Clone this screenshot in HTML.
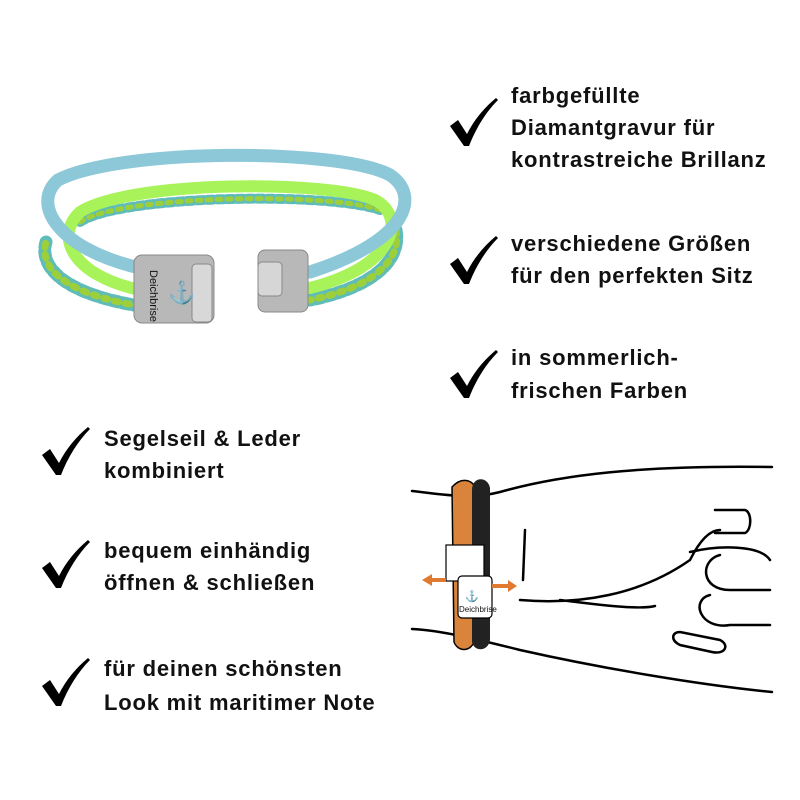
<!DOCTYPE html>
<html><head><style>
body{margin:0;background:#fff}
svg{display:block}
text{font-family:"Liberation Sans",sans-serif;font-weight:bold;font-size:22px;letter-spacing:0.8px;fill:#111}
</style></head><body>
<svg width="800" height="800" viewBox="0 0 800 800">
<defs>
<path id="ck" d="M0 22 L8 16 L17 30 C24 16 34 4 46 -6 L48 -4 C36 8 26 24 19 42 L14 42 Z" fill="#000"/>
</defs>
<use href="#ck" x="450" y="104"/>
<use href="#ck" x="450" y="242"/>
<use href="#ck" x="450" y="356"/>
<use href="#ck" x="42" y="433"/>
<use href="#ck" x="42" y="546"/>
<use href="#ck" x="42" y="664"/>
<text x="511" y="103">farbgefüllte</text>
<text x="511" y="135">Diamantgravur für</text>
<text x="511" y="167">kontrastreiche Brillanz</text>
<text x="511" y="251">verschiedene Größen</text>
<text x="511" y="283">für den perfekten Sitz</text>
<text x="511" y="365">in sommerlich-</text>
<text x="511" y="398">frischen Farben</text>
<text x="104" y="446">Segelseil &amp; Leder</text>
<text x="104" y="478">kombiniert</text>
<text x="104" y="558">bequem einhändig</text>
<text x="104" y="590">öffnen &amp; schließen</text>
<text x="104" y="676">für deinen schönsten</text>
<text x="104" y="710">Look mit maritimer Note</text>
<!-- bracelet -->
<g fill="none" stroke-linecap="round">
<path d="M140 306 C70 295 38 270 46 242" stroke="#5fbcb8" stroke-width="13" stroke-dasharray="7 4"/>
<path d="M140 306 C70 295 38 270 46 242" stroke="#9ccf3a" stroke-width="7" stroke-dasharray="4 7"/>
<path d="M396 230 C402 262 370 288 310 300" stroke="#5fbcb8" stroke-width="13" stroke-dasharray="7 4"/>
<path d="M396 230 C402 262 370 288 310 300" stroke="#9ccf3a" stroke-width="7" stroke-dasharray="4 7"/>
<path d="M80 222 C120 195 330 192 380 210" stroke="#5fbcb8" stroke-width="10" stroke-dasharray="6 4"/>
<path d="M80 222 C120 195 330 192 380 210" stroke="#9ccf3a" stroke-width="5" stroke-dasharray="4 6"/>
<path d="M140 290 C70 275 55 235 80 212 C130 180 330 180 375 200 C405 215 400 265 310 288" stroke="#a8f25a" stroke-width="12"/>
<path d="M140 268 C60 250 30 205 58 180 C120 148 340 148 390 175 C420 195 410 240 310 272" stroke="#8cc8d8" stroke-width="13"/>
</g>
<rect x="134" y="255" width="80" height="68" rx="8" fill="#b8b8b8" stroke="#888"/>
<rect x="192" y="264" width="20" height="58" rx="4" fill="#d8d8d8" stroke="#888"/>
<text x="150" y="270" transform="rotate(90 150 270)" style="font-size:11px;font-weight:normal;letter-spacing:0">Deichbrise</text>
<text x="168" y="300" style="font-size:22px;font-weight:normal;letter-spacing:0;fill:#333">⚓</text>
<rect x="258" y="250" width="50" height="62" rx="7" fill="#b8b8b8" stroke="#888"/>
<rect x="258" y="262" width="24" height="34" rx="4" fill="#d6d6d6" stroke="#888"/>
<!-- hand drawing -->
<g fill="none" stroke="#000" stroke-width="2.5" stroke-linecap="round">
<path d="M412 491 C440 494 470 500 500 492 C560 475 640 465 772 467"/>
<path d="M412 629 C440 630 480 640 520 650 C600 668 700 685 772 692"/>
<path d="M715 510 L745 510 C752 512 752 530 745 533 L715 533"/>
<path d="M690 552 C720 545 760 545 770 560"/>
<path d="M720 555 C700 560 700 590 730 590 L770 590"/>
<path d="M710 595 C690 600 700 630 730 625 L770 625"/>
<path d="M680 632 L720 640 C730 645 725 655 712 652 L680 645 C670 640 672 632 680 632"/>
<path d="M520 600 C580 605 640 595 690 560 C700 540 710 530 720 530"/>
<path d="M560 600 C600 605 640 610 655 606"/>
<path d="M525 530 L523 580"/>
</g>
<path d="M452 487 C462 476 474 480 476 490 L474 642 C470 652 458 652 454 642 Z" fill="#d9843a" stroke="#000" stroke-width="1.5"/>
<path d="M472 490 C472 476 488 476 490 488 L490 640 C488 652 474 652 472 642 Z" fill="#222"/>
<rect x="446" y="545" width="38" height="36" fill="#fff" stroke="#000" stroke-width="1.2"/>
<rect x="458" y="576" width="34" height="42" rx="4" fill="#fff" stroke="#000" stroke-width="1.2"/>
<text x="465" y="600" style="font-size:11px;font-weight:normal;letter-spacing:0">⚓</text>
<text x="459" y="612" style="font-size:8px;font-weight:normal;letter-spacing:0">Deichbrise</text>
<path d="M446 578 L432 578 L432 574 L422 580 L432 586 L432 582 L446 582 Z" fill="#e07a30"/>
<path d="M492 584 L508 584 L508 580 L517 586 L508 592 L508 588 L492 588 Z" fill="#e07a30"/>
</svg>
</body></html>
